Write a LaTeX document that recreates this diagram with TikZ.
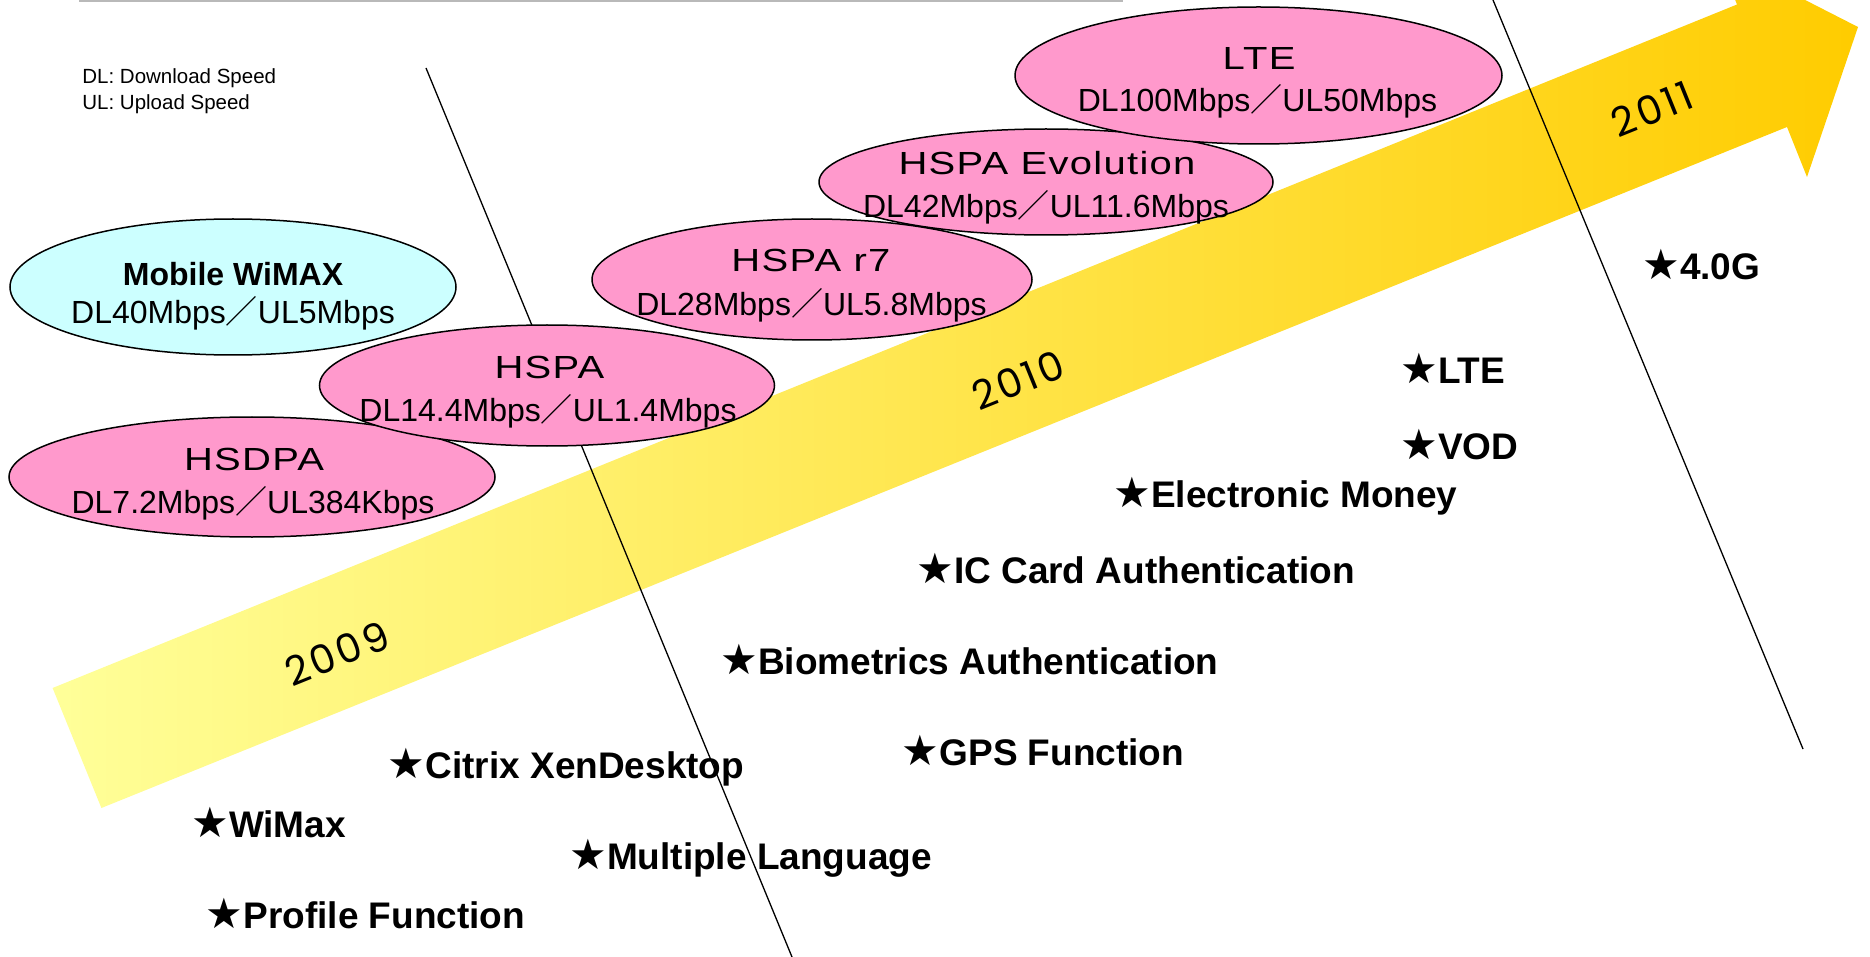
\documentclass[tikz,border=0pt]{standalone}
\usepackage{fontspec}
\setmainfont{Liberation Sans}
\newfontfamily\cjk{Noto Sans CJK JP}
\newfontfamily\starfont{DejaVu Sans}
\newfontfamily\titlefont[FakeStretch=1.25, LetterSpace=4]{Liberation Sans}
\newfontfamily\yearfont[LetterSpace=8]{Poppins}
\usetikzlibrary{shapes.geometric}
\definecolor{pinkfill}{RGB}{255,153,204}
\definecolor{cyanfill}{RGB}{204,255,255}
\definecolor{arrL}{RGB}{255,255,153}
\definecolor{arrM}{RGB}{255,230,100}
\definecolor{arrR}{RGB}{255,204,0}
\definecolor{topgray}{RGB}{185,185,185}
\newcommand{\fsl}{{\cjk ／}}
\newcommand{\bstar}{{\starfont\fontsize{21}{21}\selectfont ★}}
\tikzset{
  bubble/.style={ellipse, draw=black, line width=0.75pt, inner sep=0pt},
  pinkb/.style={bubble, fill=pinkfill},
  ttl/.style={anchor=base, inner sep=0pt, font=\titlefont\fontsize{16}{16}\selectfont},
  spd/.style={anchor=base, inner sep=0pt, font=\fontsize{16}{16}\selectfont},
  item/.style={anchor=base west, inner sep=0pt, font=\bfseries\fontsize{18.5}{18.5}\selectfont},
  legend/.style={anchor=base west, inner sep=0pt, font=\fontsize{10.25}{10.25}\selectfont},
  yearlbl/.style={inner sep=0pt, rotate=22, font=\yearfont\fontsize{20}{20}\selectfont},
  divider/.style={line width=0.65pt, draw=black}
}
\begin{document}
\begin{tikzpicture}[x=0.5pt, y=-0.5pt]
\useasboundingbox (0,0) rectangle (1870,957);
\begin{scope}
\clip (0,0) rectangle (1870,957);
% top gray rule
\fill[topgray] (79,0) rectangle (1123,2);
% big arrow
\shade[left color=arrL, middle color=arrM, right color=arrR]
  (52.6,688) -- (1737,4.5) -- (1717,-45) -- (1858,27) -- (1807,177)
  -- (1787,127) -- (101.4,808) -- cycle;
\end{scope}
% dividers
\coordinate (d1a) at (426,68);
\coordinate (d1b) at (792,957);
\coordinate (d2a) at (1493,0);
\coordinate (d2b) at (1803,749);
\draw[divider] (d1a) -- (d1b);
\draw[divider] (d2a) -- (d2b);
% legend
\node[legend] (lg1) at (82,84) {DL: Download Speed};
\node[legend] (lg2) at (82,110) {UL: Upload Speed};
% ellipses
\node[bubble, fill=cyanfill, minimum width=223pt, minimum height=68pt] (wimax) at (233,287) {};
\node[pinkb, minimum width=243pt, minimum height=60pt] (hsdpa) at (252,477) {};
\node[pinkb, minimum width=227.5pt, minimum height=60.5pt] (hspa) at (547,385.5) {};
\node[pinkb, minimum width=220pt, minimum height=60.5pt] (r7) at (812,279.5) {};
\node[pinkb, minimum width=227pt, minimum height=53pt] (evo) at (1046,182) {};
\node[pinkb, minimum width=243.5pt, minimum height=68.5pt] (lte) at (1258.5,75.5) {};
% ellipse texts
\node[spd, font=\bfseries\fontsize{16}{16}\selectfont] (wimaxT) at (233,285.5) {Mobile WiMAX};
\node[spd] (wimaxS) at (233,324) {DL40Mbps\fsl UL5Mbps};
\node[ttl] (hsdpaT) at (254,470) {HSDPA};
\node[spd] (hsdpaS) at (253,513.5) {DL7.2Mbps\fsl UL384Kbps};
\node[ttl] (hspaT) at (549.5,378.5) {HSPA};
\node[spd] (hspaS) at (548,421.5) {DL14.4Mbps\fsl UL1.4Mbps};
\node[ttl] (r7T) at (811,272) {HSPA r7};
\node[spd] (r7S) at (811.5,315.5) {DL28Mbps\fsl UL5.8Mbps};
\node[ttl] (evoT) at (1047,175) {HSPA Evolution};
\node[spd] (evoS) at (1046,218) {DL42Mbps\fsl UL11.6Mbps};
\node[ttl] (lteT) at (1259,70) {LTE};
\node[spd] (lteS) at (1257.5,111.5) {DL100Mbps\fsl UL50Mbps};
% years
\node[yearlbl] (y2009) at (337,653.5) {2009};
\node[yearlbl] (y2010) at (1018,380) {2010};
\node[yearlbl] (y2011) at (1652,109) {2011};
% items
\node[item] (i40g) at (1642,280) {\bstar 4.0G};
\node[item] (ilte) at (1400,384) {\bstar LTE};
\node[item] (ivod) at (1400,459) {\bstar VOD};
\node[item] (iem) at (1113,507) {\bstar Electronic Money};
\node[item] (iic) at (916,583) {\bstar IC Card Authentication};
\node[item] (ibio) at (720,674) {\bstar Biometrics Authentication};
\node[item] (igps) at (901.5,765.5) {\bstar GPS Function};
\node[item] (icit) at (387.5,778) {\bstar Citrix XenDesktop};
\node[item] (iwm) at (191,837) {\bstar WiMax};
\node[item] (iml) at (569,869) {\bstar Multiple Language};
\node[item] (ipf) at (205.5,928.5) {\bstar Profile Function};
\end{tikzpicture}
\end{document}
